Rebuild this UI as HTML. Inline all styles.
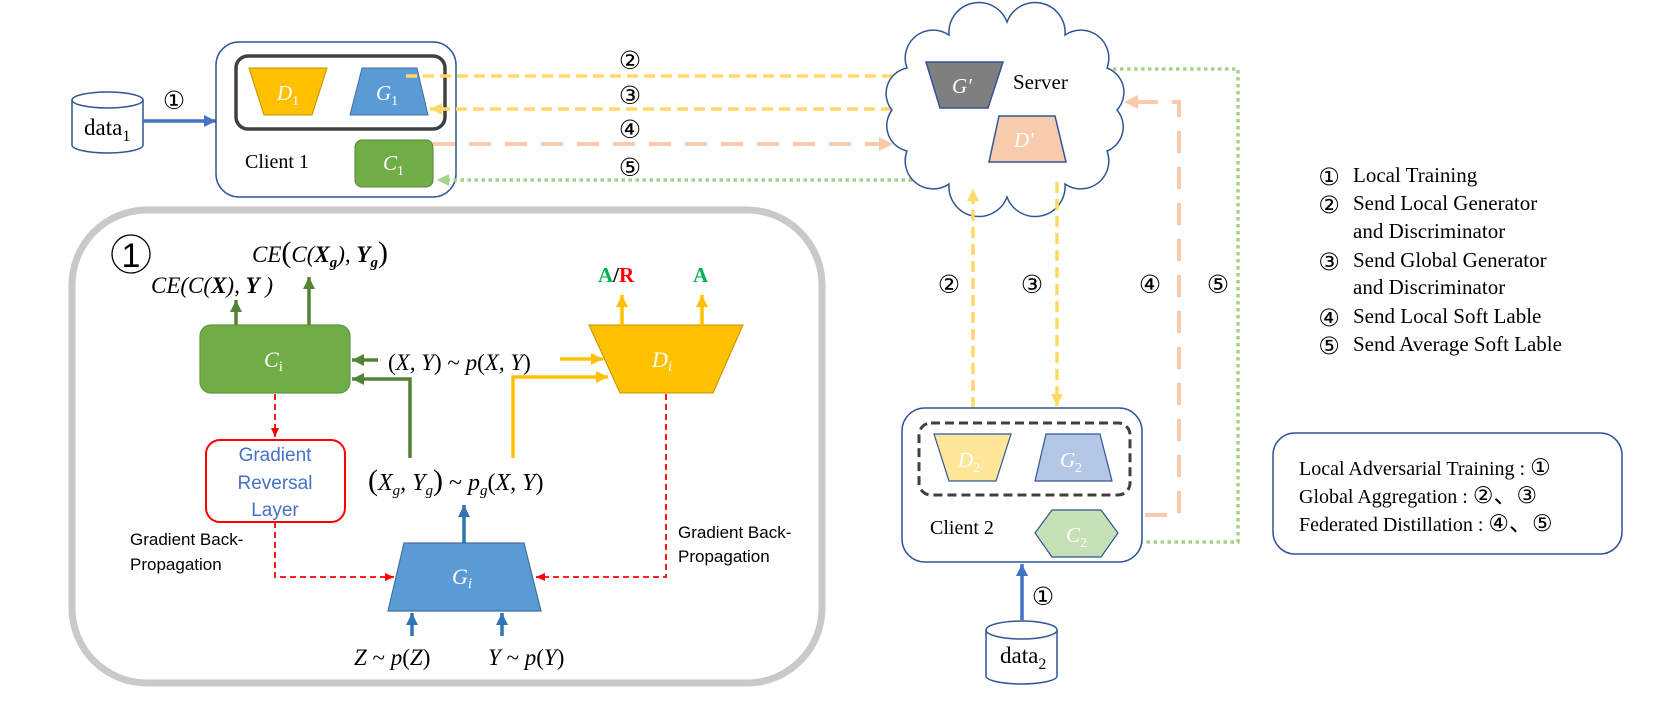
<!DOCTYPE html>
<html><head><meta charset="utf-8"><style>
html,body{margin:0;padding:0;background:#fff;}
svg{display:block;}
.t{font-family:"Liberation Serif",serif;fill:#000;}
.m{font-family:"Liberation Serif",serif;font-style:italic;fill:#000;}
.s{font-family:"Liberation Sans",sans-serif;fill:#000;}
.c{font-family:"DejaVu Sans","Liberation Sans",sans-serif;fill:#000;}
</style></head><body>
<svg width="1660" height="703" viewBox="0 0 1660 703" xmlns="http://www.w3.org/2000/svg">
<defs>
<marker id="aBlue" markerUnits="userSpaceOnUse" markerWidth="14" markerHeight="14" refX="12" refY="7" orient="auto"><path d="M0,1 L12,7 L0,13 z" fill="#4472c4"/></marker>
<marker id="aBlue2" markerUnits="userSpaceOnUse" markerWidth="14" markerHeight="14" refX="12" refY="7" orient="auto"><path d="M0,1 L12,7 L0,13 z" fill="#2e75b6"/></marker>
<marker id="aYel" markerUnits="userSpaceOnUse" markerWidth="14" markerHeight="14" refX="12" refY="7" orient="auto"><path d="M0,1 L12,7 L0,13 z" fill="#ffd966"/></marker>
<marker id="aYel2" markerUnits="userSpaceOnUse" markerWidth="14" markerHeight="14" refX="12" refY="7" orient="auto"><path d="M0,1 L12,7 L0,13 z" fill="#ffc000"/></marker>
<marker id="aOr" markerUnits="userSpaceOnUse" markerWidth="16" markerHeight="16" refX="14" refY="8" orient="auto"><path d="M0,1 L14,8 L0,15 z" fill="#f8cbad"/></marker>
<marker id="aGr" markerUnits="userSpaceOnUse" markerWidth="14" markerHeight="14" refX="12" refY="7" orient="auto"><path d="M0,1 L12,7 L0,13 z" fill="#a9d18e"/></marker>
<marker id="aDG" markerUnits="userSpaceOnUse" markerWidth="14" markerHeight="14" refX="12" refY="7" orient="auto"><path d="M0,1 L12,7 L0,13 z" fill="#548235"/></marker>
<marker id="aRed" markerUnits="userSpaceOnUse" markerWidth="10" markerHeight="10" refX="9" refY="5" orient="auto"><path d="M0,1 L9,5 L0,9 z" fill="#ff0000"/></marker>
</defs>

<!-- data1 -->
<path d="M72,100 L72,145 A35.5,8 0 0 0 143,145 L143,100" fill="#fff" stroke="#2f5597" stroke-width="1.5"/>
<ellipse cx="107.5" cy="100" rx="35.5" ry="8" fill="#fff" stroke="#2f5597" stroke-width="1.5"/>
<text class="t" x="84" y="135" font-size="23">data<tspan font-size="16" dy="6">1</tspan></text>
<line x1="143" y1="121" x2="216" y2="121" stroke="#4472c4" stroke-width="3.5" marker-end="url(#aBlue)"/>
<text class="c" x="174" y="109" font-size="25" text-anchor="middle">①</text>

<!-- Client 1 -->
<rect x="216" y="42" width="240" height="155" rx="23" fill="#fff" stroke="#2f5597" stroke-width="1.5"/>
<rect x="236" y="56" width="209" height="73" rx="12" fill="none" stroke="#404040" stroke-width="3.5"/>
<polygon points="249,68 327,68 312,115 264,115" fill="#ffc000" stroke="#bf9000" stroke-width="1"/>
<text class="m" x="277" y="100" font-size="21" style="fill:#fff">D<tspan font-size="14" dy="5" font-style="normal">1</tspan></text>
<polygon points="362,68 417,68 428,115 350,115" fill="#5b9bd5" stroke="#41719c" stroke-width="1"/>
<text class="m" x="376" y="100" font-size="21" style="fill:#fff">G<tspan font-size="14" dy="5" font-style="normal">1</tspan></text>
<rect x="355" y="140" width="78" height="47" rx="7" fill="#70ad47" stroke="#548235" stroke-width="1"/>
<text class="m" x="383" y="170" font-size="21" style="fill:#fff">C<tspan font-size="14" dy="5" font-style="normal">1</tspan></text>
<text class="t" x="245" y="168" font-size="20">Client 1</text>

<!-- top connectors -->
<line x1="406" y1="76" x2="908" y2="76" stroke="#ffd966" stroke-width="3.5" stroke-dasharray="11,6" marker-end="url(#aYel)"/>
<line x1="892" y1="109" x2="430" y2="109" stroke="#ffd966" stroke-width="3.5" stroke-dasharray="11,6" marker-end="url(#aYel)"/>
<line x1="433" y1="144" x2="893" y2="144" stroke="#f8cbad" stroke-width="4" stroke-dasharray="22,14" marker-end="url(#aOr)"/>
<line x1="933" y1="180" x2="437" y2="180" stroke="#a9d18e" stroke-width="3.5" stroke-dasharray="3.5,3.5" marker-end="url(#aGr)"/>
<text class="c" x="630" y="69" font-size="25" text-anchor="middle">②</text>
<text class="c" x="630" y="104" font-size="25" text-anchor="middle">③</text>
<text class="c" x="630" y="138" font-size="25" text-anchor="middle">④</text>
<text class="c" x="630" y="176" font-size="25" text-anchor="middle">⑤</text>

<!-- Cloud -->
<path d="M1117,110 A26,26 0 0 1 1107,151 A28,28 0 0 1 1065,184 A30,30 0 0 1 1007,197 A30,30 0 0 1 949,184 A28,28 0 0 1 907,151 A26,26 0 0 1 892,110 A26,26 0 0 1 907,68 A28,28 0 0 1 949,35 A30,30 0 0 1 1007,22 A30,30 0 0 1 1065,35 A28,28 0 0 1 1107,68 A26,26 0 0 1 1117,110 Z" fill="#fff" stroke="#2f5597" stroke-width="1.5"/>
<text class="t" x="1013" y="89" font-size="21">Server</text>
<polygon points="926,62 1003,62 988,108 940,108" fill="#7f7f7f" stroke="#2f5597" stroke-width="1.5"/>
<text class="m" x="952" y="93" font-size="21" style="fill:#fff">G′</text>
<polygon points="999,116 1055,116 1066,162 989,162" fill="#f8cbad" stroke="#2f5597" stroke-width="1.5"/>
<text class="m" x="1014" y="147" font-size="21" style="fill:#fff">D′</text>

<!-- right connectors -->
<polyline points="1113,69 1238,69 1238,542 1122,542" fill="none" stroke="#a9d18e" stroke-width="3.5" stroke-dasharray="3.5,3.5" marker-end="url(#aGr)"/>
<polyline points="1109,515 1179,515 1179,102 1124,102" fill="none" stroke="#f8cbad" stroke-width="4" stroke-dasharray="22,14" marker-end="url(#aOr)"/>
<line x1="973" y1="408" x2="973" y2="189" stroke="#ffd966" stroke-width="3.5" stroke-dasharray="11,6" marker-end="url(#aYel)"/>
<line x1="1057" y1="182" x2="1057" y2="406" stroke="#ffd966" stroke-width="3.5" stroke-dasharray="11,6" marker-end="url(#aYel)"/>
<text class="c" x="949" y="293" font-size="25" text-anchor="middle">②</text>
<text class="c" x="1032" y="293" font-size="25" text-anchor="middle">③</text>
<text class="c" x="1150" y="293" font-size="25" text-anchor="middle">④</text>
<text class="c" x="1218" y="293" font-size="25" text-anchor="middle">⑤</text>

<!-- Client 2 -->
<rect x="902" y="408" width="240" height="154" rx="23" fill="#fff" stroke="#2f5597" stroke-width="1.5"/>
<rect x="919" y="423" width="211" height="72" rx="12" fill="none" stroke="#404040" stroke-width="3" stroke-dasharray="9,5"/>
<polygon points="934,434 1011,434 996,481 949,481" fill="#ffe699" stroke="#2f5597" stroke-width="1.2"/>
<text class="m" x="958" y="467" font-size="21" style="fill:#fff">D<tspan font-size="14" dy="5" font-style="normal">2</tspan></text>
<polygon points="1046,434 1100,434 1112,481 1035,481" fill="#b4c7e7" stroke="#2f5597" stroke-width="1.2"/>
<text class="m" x="1060" y="467" font-size="21" style="fill:#fff">G<tspan font-size="14" dy="5" font-style="normal">2</tspan></text>
<polygon points="1035,533 1052,510 1101,510 1118,533 1101,557 1052,557" fill="#c5e0b4" stroke="#2f5597" stroke-width="1.2"/>
<text class="m" x="1066" y="542" font-size="21" style="fill:#fff">C<tspan font-size="14" dy="5" font-style="normal">2</tspan></text>
<text class="t" x="930" y="534" font-size="20">Client 2</text>

<!-- data2 -->
<line x1="1022" y1="620" x2="1022" y2="564" stroke="#4472c4" stroke-width="3.5" marker-end="url(#aBlue)"/>
<text class="c" x="1043" y="605" font-size="25" text-anchor="middle">①</text>
<path d="M986,630 L986,676 A35.5,8 0 0 0 1057,676 L1057,630" fill="#fff" stroke="#2f5597" stroke-width="1.5"/>
<ellipse cx="1021.5" cy="630" rx="35.5" ry="9" fill="#fff" stroke="#2f5597" stroke-width="1.5"/>
<text class="t" x="1000" y="663" font-size="23">data<tspan font-size="16" dy="6">2</tspan></text>

<!-- legend -->
<g class="t" font-size="21">
<text class="c" x="1329" y="185" font-size="24" text-anchor="middle">①</text><text class="t" x="1353" y="182">Local Training</text>
<text class="c" x="1329" y="213" font-size="24" text-anchor="middle">②</text><text class="t" x="1353" y="210">Send Local Generator</text>
<text class="t" x="1353" y="238">and Discriminator</text>
<text class="c" x="1329" y="270" font-size="24" text-anchor="middle">③</text><text class="t" x="1353" y="267">Send Global Generator</text>
<text class="t" x="1353" y="294">and Discriminator</text>
<text class="c" x="1329" y="326" font-size="24" text-anchor="middle">④</text><text class="t" x="1353" y="323">Send Local Soft Lable</text>
<text class="c" x="1329" y="354" font-size="24" text-anchor="middle">⑤</text><text class="t" x="1353" y="351">Send Average Soft Lable</text>
</g>
<rect x="1273" y="433" width="349" height="121" rx="22" fill="#fff" stroke="#2f5597" stroke-width="1.5"/>
<text class="t" x="1299" y="475" font-size="20">Local Adversarial Training : <tspan font-family="DejaVu Sans,sans-serif" font-size="23">①</tspan></text>
<text class="t" x="1299" y="503" font-size="20">Global Aggregation : <tspan font-family="DejaVu Sans,Noto Sans CJK SC,sans-serif" font-size="23">②、③</tspan></text>
<text class="t" x="1299" y="531" font-size="20">Federated Distillation : <tspan font-family="DejaVu Sans,Noto Sans CJK SC,sans-serif" font-size="23">④、⑤</tspan></text>

<!-- Left panel -->
<rect x="72" y="210" width="750" height="473" rx="75" fill="none" stroke="#c9c9c9" stroke-width="7"/>
<circle cx="131" cy="254" r="19" fill="none" stroke="#000" stroke-width="1.3"/>
<text class="s" x="131" y="267" font-size="34" text-anchor="middle">1</text>

<text class="m" x="252" y="262" font-size="23">CE<tspan font-style="normal" font-size="30">(</tspan>C(<tspan font-weight="bold">X</tspan><tspan font-size="15" dy="5" font-weight="bold">g</tspan><tspan dy="-5">), </tspan><tspan font-weight="bold">Y</tspan><tspan font-size="15" dy="5" font-weight="bold">g</tspan><tspan dy="-5" font-style="normal" font-size="30">)</tspan></text>
<text class="m" x="151" y="293" font-size="23">CE(C(<tspan font-weight="bold">X</tspan>), <tspan font-weight="bold">Y</tspan> )</text>

<rect x="200" y="325" width="150" height="68" rx="11" fill="#70ad47" stroke="#5f9a3b" stroke-width="1.2"/>
<text class="m" x="264" y="367" font-size="22" style="fill:#fff">C<tspan font-size="15" dy="4" font-style="normal">i</tspan></text>
<line x1="236" y1="325" x2="236" y2="300" stroke="#548235" stroke-width="3.5" marker-end="url(#aDG)"/>
<line x1="309" y1="325" x2="309" y2="277" stroke="#548235" stroke-width="3.5" marker-end="url(#aDG)"/>
<line x1="378" y1="360" x2="352" y2="360" stroke="#548235" stroke-width="3.5" marker-end="url(#aDG)"/>
<polyline points="410,458 410,379 352,379" fill="none" stroke="#548235" stroke-width="3.5" marker-end="url(#aDG)"/>
<text class="m" x="388" y="370" font-size="23"><tspan font-style="normal">(</tspan>X, Y<tspan font-style="normal">) ~ </tspan>p<tspan font-style="normal">(</tspan>X, Y<tspan font-style="normal">)</tspan></text>

<line x1="560" y1="359" x2="603" y2="359" stroke="#ffc000" stroke-width="3.5" marker-end="url(#aYel2)"/>
<polyline points="513,458 513,377 608,377" fill="none" stroke="#ffc000" stroke-width="3.5" marker-end="url(#aYel2)"/>
<polygon points="589,325 743,325 713,393 620,393" fill="#ffc000" stroke="#bf9000" stroke-width="1"/>
<text class="m" x="652" y="367" font-size="22" style="fill:#fff">D<tspan font-size="15" dy="4">i</tspan></text>
<line x1="622" y1="325" x2="622" y2="295" stroke="#ffc000" stroke-width="3.5" marker-end="url(#aYel2)"/>
<line x1="702" y1="325" x2="702" y2="295" stroke="#ffc000" stroke-width="3.5" marker-end="url(#aYel2)"/>
<text class="t" x="598" y="282" font-size="21" font-weight="bold"><tspan style="fill:#00b050">A</tspan>/<tspan style="fill:#ff0000">R</tspan></text>
<text class="t" x="693" y="282" font-size="21" font-weight="bold" style="fill:#00b050">A</text>

<!-- red dashed -->
<line x1="275" y1="394" x2="275" y2="437" stroke="#ff0000" stroke-width="1.8" stroke-dasharray="6,4" marker-end="url(#aRed)"/>
<rect x="206" y="440" width="139" height="82" rx="14" fill="#fff" stroke="#ff0000" stroke-width="2"/>
<text class="s" x="275" y="461" font-size="19" text-anchor="middle" style="fill:#4472c4">Gradient</text>
<text class="s" x="275" y="489" font-size="19" text-anchor="middle" style="fill:#4472c4">Reversal</text>
<text class="s" x="275" y="516" font-size="19" text-anchor="middle" style="fill:#4472c4">Layer</text>
<polyline points="275,522 275,577 394,577" fill="none" stroke="#ff0000" stroke-width="1.8" stroke-dasharray="6,4" marker-end="url(#aRed)"/>
<polyline points="666,394 666,577 536,577" fill="none" stroke="#ff0000" stroke-width="1.8" stroke-dasharray="6,4" marker-end="url(#aRed)"/>
<text class="s" x="130" y="545" font-size="17">Gradient Back-</text>
<text class="s" x="130" y="570" font-size="17">Propagation</text>
<text class="s" x="678" y="538" font-size="17">Gradient Back-</text>
<text class="s" x="678" y="562" font-size="17">Propagation</text>

<!-- G_i -->
<text class="m" x="368" y="490" font-size="24"><tspan font-style="normal" font-size="30">(</tspan>X<tspan font-size="15" dy="5">g</tspan><tspan dy="-5">, Y</tspan><tspan font-size="15" dy="5">g</tspan><tspan dy="-5" font-style="normal" font-size="30">)</tspan><tspan font-style="normal"> ~ </tspan>p<tspan font-size="15" dy="5">g</tspan><tspan dy="-5" font-style="normal">(</tspan>X, Y<tspan font-style="normal">)</tspan></text>
<line x1="464" y1="543" x2="464" y2="505" stroke="#2e75b6" stroke-width="3.5" marker-end="url(#aBlue2)"/>
<polygon points="404,543 524,543 541,611 388,611" fill="#5b9bd5" stroke="#41719c" stroke-width="1.2"/>
<text class="m" x="452" y="584" font-size="22" style="fill:#fff">G<tspan font-size="15" dy="4">i</tspan></text>
<line x1="412" y1="636" x2="412" y2="613" stroke="#2e75b6" stroke-width="3.5" marker-end="url(#aBlue2)"/>
<line x1="502" y1="636" x2="502" y2="613" stroke="#2e75b6" stroke-width="3.5" marker-end="url(#aBlue2)"/>
<text class="m" x="354" y="665" font-size="23">Z<tspan font-style="normal"> ~ </tspan>p<tspan font-style="normal">(</tspan>Z<tspan font-style="normal">)</tspan></text>
<text class="m" x="488" y="665" font-size="23">Y<tspan font-style="normal"> ~ </tspan>p<tspan font-style="normal">(</tspan>Y<tspan font-style="normal">)</tspan></text>
</svg>
</body></html>
